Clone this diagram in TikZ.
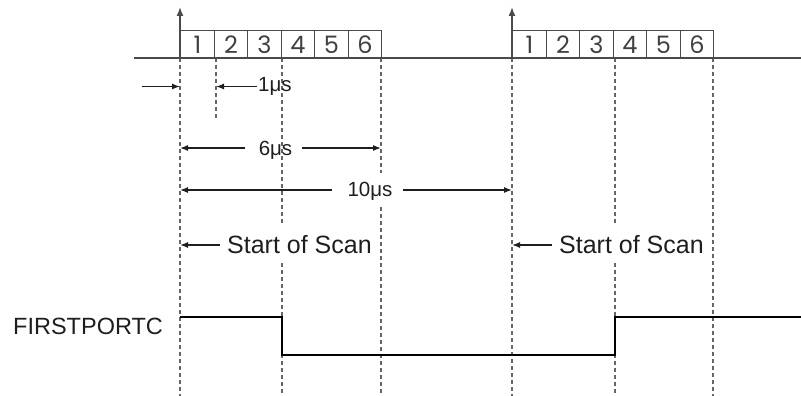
\documentclass[tikz,border=0pt]{standalone}
\usepackage{fontspec}
\setmainfont{Liberation Sans}
\newfontfamily\digitfont{Poppins}
\usetikzlibrary{arrows.meta}
\definecolor{ink}{HTML}{1E1E1E}
\definecolor{gridc}{HTML}{4A4A4A}
\definecolor{dashc}{HTML}{666666}
\begin{document}
\begin{tikzpicture}[x=1pt,y=-1pt,
  cell/.style={draw=gridc, line width=1.4pt, minimum width=33.5pt, minimum height=28pt, inner sep=0pt, anchor=north west, font=\digitfont\fontsize{24}{24}\selectfont, text=ink!85},
  guide/.style={draw=dashc, line width=1.1pt, dash pattern=on 4pt off 3pt},
  dim/.style={draw=ink, line width=1.3pt, -{Latex[length=8pt,width=6pt]}},
  lab/.style={font=\fontsize{20.5}{20.5}\selectfont, text=ink, inner sep=1.5pt, anchor=base},
  big/.style={font=\fontsize{25}{25}\selectfont, text=ink, inner sep=1.5pt, anchor=base west},
  sig/.style={draw=black, line width=2pt},
  axisline/.style={draw=gridc, line width=1.5pt},
  uparrow/.style={axisline, -{Latex[length=9pt,width=7pt]}}
]
\useasboundingbox (0,0) rectangle (801,396);

% guide lines
\foreach \n/\x in {a/180, c/282, d/381, e/512, f/615, g/713}{
  \coordinate (\n top) at (\x,58);
  \coordinate (\n bot) at (\x,396);
}
\coordinate (cgap1) at (282,223);
\coordinate (cgap2) at (282,263);
\coordinate (dgap1) at (381,173);
\coordinate (dgap2) at (381,207);
\coordinate (fgap1) at (615,223);
\coordinate (fgap2) at (615,263);
\draw[guide] (atop) -- (abot);
\draw[guide] (etop) -- (ebot);
\draw[guide] (gtop) -- (gbot);
\draw[guide] (ctop) -- (cgap1);
\draw[guide] (cgap2) -- (cbot);
\draw[guide] (dtop) -- (dgap1);
\draw[guide] (dgap2) -- (dbot);
\draw[guide] (ftop) -- (fgap1);
\draw[guide] (fgap2) -- (fbot);
\coordinate (btop) at (216,58);
\coordinate (bbot) at (216,118);
\draw[guide] (btop) -- (bbot);

% baseline and cells
\coordinate (baseL) at (134,58);
\coordinate (baseR) at (801,58);
\draw[axisline] (baseL) -- (baseR);
\foreach \i in {1,...,6}{
  \node[cell] (p\i) at ({180+33.5*(\i-1)},30) {\i};
  \node[cell] (q\i) at ({512+33.5*(\i-1)},30) {\i};
}
\coordinate (tipA) at (180,7);
\coordinate (tipB) at (512,7);
\draw[uparrow] (atop) -- (tipA);
\draw[uparrow] (etop) -- (tipB);

% signal
\coordinate (s0) at (180,317);
\coordinate (s1) at (282,317);
\coordinate (s2) at (282,355);
\coordinate (s3) at (615,355);
\coordinate (s4) at (615,317);
\coordinate (s5) at (801,317);
\draw[sig] (s0) -- (s1) -- (s2) -- (s3) -- (s4) -- (s5);
\node[font=\fontsize{23.5}{23.5}\selectfont, text=ink, anchor=base west, inner sep=0pt] (fp) at (13,334) {FIRSTPORTC};

% labels
\node[lab, anchor=base west] (l1) at (256.5,92) {1μs};
\node[lab] (l6) at (275.5,155) {6μs};
\node[lab] (l10) at (370,196) {10μs};
\node[big] (sc1) at (225.5,253) {Start of Scan};
\node[big] (sc2) at (557.5,253) {Start of Scan};

% 1 us
\coordinate (l1tip) at (216,86.5);
\draw[dim] (l1.west |- l1tip) -- (l1tip);
\coordinate (l0a) at (142,86.5);
\coordinate (l0b) at (180,86.5);
\draw[dim] (l0a) -- (l0b);

% 6 us
\coordinate (l6a) at (245,148);
\coordinate (l6b) at (180,148);
\coordinate (l6c) at (302,148);
\coordinate (l6d) at (381,148);
\draw[dim] (l6a) -- (l6b);
\draw[dim] (l6c) -- (l6d);

% 10 us
\coordinate (l10a) at (332,190);
\coordinate (l10b) at (180,190);
\coordinate (l10c) at (403,190);
\coordinate (l10d) at (512,190);
\draw[dim] (l10a) -- (l10b);
\draw[dim] (l10c) -- (l10d);

% start of scan
\coordinate (sc1a) at (220,245);
\coordinate (sc1b) at (180,245);
\coordinate (sc2a) at (552,245);
\coordinate (sc2b) at (512,245);
\draw[dim] (sc1a) -- (sc1b);
\draw[dim] (sc2a) -- (sc2b);
\end{tikzpicture}
\end{document}
